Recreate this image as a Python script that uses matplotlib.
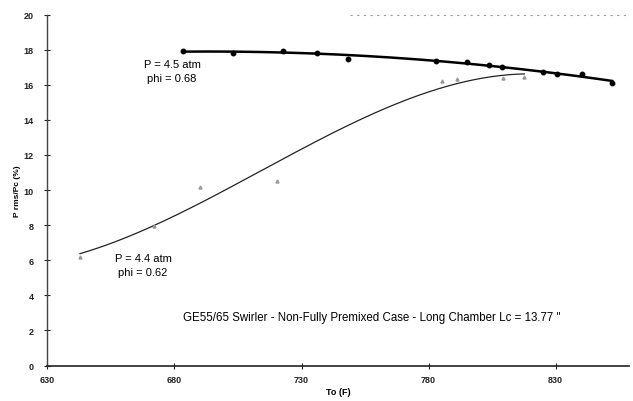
import numpy as np
import matplotlib
matplotlib.use("Agg")
import matplotlib.pyplot as plt

# Inlet temperature (F) and Prms/Pc (%) for the two operating points
to_p45 = [683.4, 703.0, 722.8, 736.2, 748.4, 783.0, 795.0, 804.0, 809.0, 825.0, 830.6, 840.5, 852.3]
prms_p45 = [17.93, 17.82, 17.93, 17.82, 17.48, 17.36, 17.28, 17.13, 17.02, 16.72, 16.60, 16.60, 16.10]

to_p44 = [642.8, 672.0, 690.0, 720.4, 785.3, 791.2, 809.5, 817.7]
prms_p44 = [6.2, 7.96, 10.2, 10.5, 16.2, 16.34, 16.4, 16.45]

x_ticks = [630, 680, 730, 780, 830]
y_ticks = [0, 2, 4, 6, 8, 10, 12, 14, 16, 18, 20]

plt.rcParams["font.family"] = ["Liberation Sans", "DejaVu Sans"]

fig = plt.figure(figsize=(6.33, 4.02), dpi=100)
ax = fig.add_axes([0.075, 0.0883, 0.919, 0.873])

# Polynomial trend lines through each series
fit45 = np.polyfit(to_p45, prms_p45, 2)
xs45 = np.linspace(min(to_p45), max(to_p45), 200)
ax.plot(xs45, np.polyval(fit45, xs45), color="black", lw=1.8, zorder=3)

fit44 = np.polyfit(to_p44, prms_p44, 3)
xs44 = np.linspace(min(to_p44), max(to_p44), 200)
ax.plot(xs44, np.polyval(fit44, xs44), color="#222222", lw=0.9, zorder=2)

ax.plot(to_p45, prms_p45, "o", color="black", ms=3.2, zorder=4)
ax.plot(to_p44, prms_p44, "^", color="#9a9a9a", ms=2.2, zorder=4)

ax.set_xlim(630, 859)
ax.set_ylim(0, 20)
ax.set_xticks(x_ticks)
ax.set_yticks(y_ticks)
ax.tick_params(axis="both", direction="inout", length=4, width=0.8,
               labelsize=6.5, colors="#222222")
for lab in ax.get_xticklabels() + ax.get_yticklabels():
    lab.set_fontweight("bold")
ax.tick_params(axis="x", pad=5)
ax.tick_params(axis="y", pad=8)

for side in ("top", "right"):
    ax.spines[side].set_visible(False)
ax.spines["left"].set_color("#444444")
ax.spines["bottom"].set_color("#222222")
ax.spines["left"].set_linewidth(1.0)
ax.spines["bottom"].set_linewidth(1.2)

# faint remnant of the chart frame along the top
ax.plot([0.52, 1.0], [1.0, 1.0], transform=ax.transAxes, color="#9a9a9a",
        lw=0.8, ls=(0, (2, 4)), clip_on=False)

ax.set_xlabel("To (F)", fontsize=6.5, fontweight="bold", labelpad=2)
ax.set_ylabel("P rms/Pc (%)", fontsize=6, fontweight="bold", labelpad=2)

ax.text(679, 16.76, "P = 4.5 atm\nphi = 0.68", fontsize=8, ha="center",
        va="center", linespacing=1.5)
ax.text(667.6, 5.74, "P = 4.4 atm\nphi = 0.62", fontsize=8, ha="center",
        va="center", linespacing=1.5)
ax.text(683.4, 2.77, "GE55/65 Swirler - Non-Fully Premixed Case - Long Chamber Lc = 13.77 \"",
        fontsize=8.3, ha="left", va="center")

fig.savefig("out.png", dpi=100)
